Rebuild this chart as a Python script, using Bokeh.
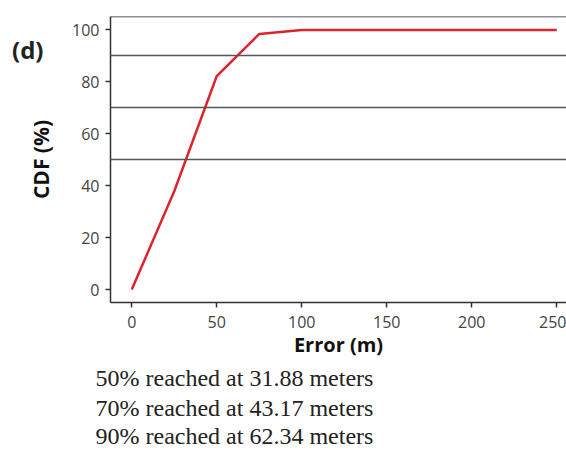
from bokeh.plotting import figure
from bokeh.models import Span, FixedTicker, Range1d, LinearAxis, Title
from bokeh.embed import file_html
from bokeh.resources import INLINE

# Data
error_m = [0, 25, 50, 75, 100, 125, 150, 175, 200, 225, 250]
cdf_pct = [0, 37.8, 82.1, 98.3, 99.8, 99.8, 99.8, 99.8, 99.8, 99.8, 99.8]
ref_levels = [90, 70, 50]
x_ticks = [0, 50, 100, 150, 200, 250]
y_ticks = [0, 20, 40, 60, 80, 100]
notes = ["50% reached at 31.88 meters",
         "70% reached at 43.17 meters",
         "90% reached at 62.34 meters"]
panel_tag = "(d)"

FONT = "Open Sans"
W, H = 566, 453
L, T = 110, 16
FRAME_BOTTOM = 302
Y0, Y1 = -5, 105

p = figure(width=W, height=H, output_backend="svg", toolbar_location=None,
           min_border_left=L, min_border_right=0, min_border_top=T,
           min_border_bottom=H - FRAME_BOTTOM,
           x_range=Range1d(-12.5, 255.7), y_range=Range1d(Y0, Y1))
p.outline_line_color = None
p.grid.visible = False

for ax in (p.xaxis[0], p.yaxis[0]):
    ax.axis_line_color = "#333333"
    ax.axis_line_width = 1.5
    ax.major_tick_line_color = "#333333"
    ax.major_tick_line_width = 1.5
    ax.major_tick_out = 5
    ax.major_tick_in = 0
    ax.minor_tick_line_color = None
    ax.major_label_text_font = FONT
    ax.major_label_text_font_size = "16px"
    ax.major_label_text_color = "#444444"
    ax.axis_label_text_font = FONT
    ax.axis_label_text_font_style = "bold"
    ax.axis_label_text_font_size = "20px"
    ax.axis_label_text_color = "#111111"

p.xaxis.ticker = FixedTicker(ticks=x_ticks)
p.yaxis.ticker = FixedTicker(ticks=y_ticks)
p.xaxis.axis_label = "Error (m)"
p.yaxis.axis_label = "CDF (%)"
p.yaxis.axis_label_text_font_size = "21px"
p.xaxis.major_label_standoff = 8
p.xaxis.axis_label_standoff = 0
p.yaxis.major_label_standoff = 6
p.yaxis.axis_label_standoff = 14

# panel tag as an outer left axis with a single labelled tick
tag_y = Y1 - (49 - T) * (Y1 - Y0) / (FRAME_BOTTOM - T)
tag_axis = LinearAxis(ticker=FixedTicker(ticks=[tag_y]),
                      major_label_overrides={tag_y: panel_tag},
                      axis_line_color=None, major_tick_line_color=None,
                      minor_tick_line_color=None, major_tick_out=0, major_tick_in=0,
                      major_label_standoff=-19,
                      major_label_text_font=FONT, major_label_text_font_style="bold",
                      major_label_text_font_size="24px", major_label_text_color="#222222")
p.add_layout(tag_axis, "left")

# top spine and reference levels
p.add_layout(Span(location=Y1, dimension="width", line_color="#222222", line_width=1.5))
for lv in ref_levels:
    p.add_layout(Span(location=lv, dimension="width", line_color="#555555", line_width=1.5))

p.line(error_m, cdf_pct, line_color="#dc242c", line_width=2.5)

# notes below the axis
for i, t in enumerate(notes):
    p.add_layout(Title(text=t, align="left", offset=-15, standoff=4 if i == 0 else 0,
                       text_font="Liberation Serif", text_font_style="normal",
                       text_font_size="24px", text_color="#222222"), "below")

open("out.html", "w").write(file_html(p, INLINE))
